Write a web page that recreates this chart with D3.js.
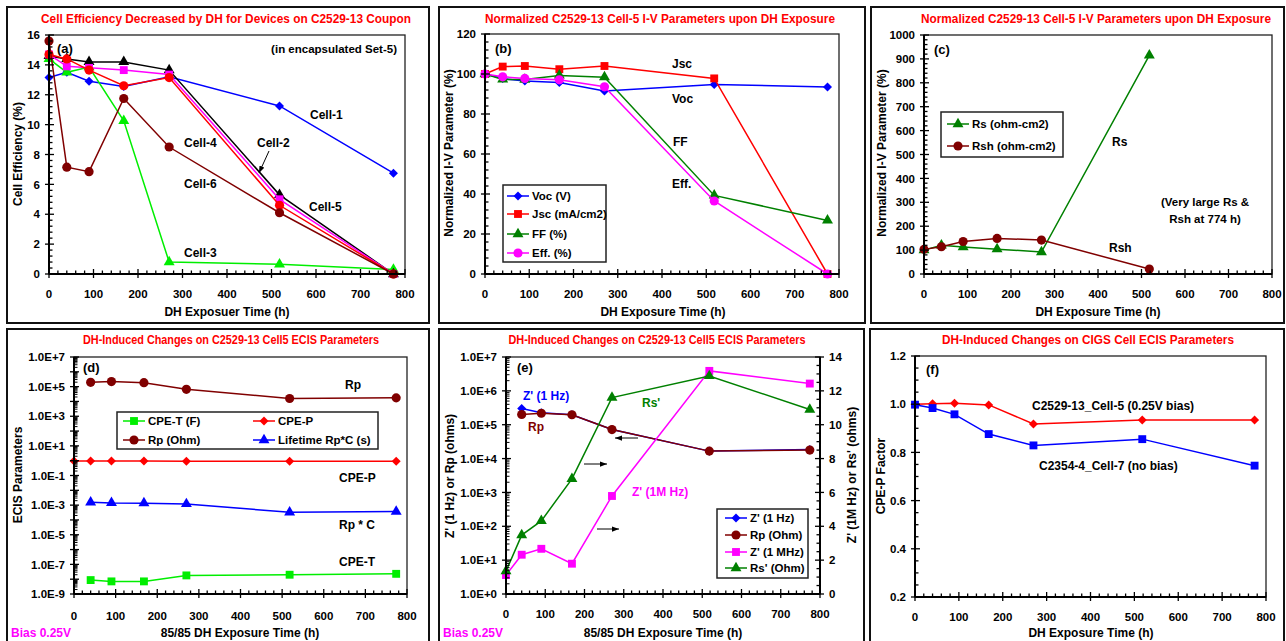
<!DOCTYPE html>
<html><head><meta charset="utf-8">
<script src="https://cdn.jsdelivr.net/npm/d3@7"></script>
<style>
body{margin:0;background:#fff;}
svg{display:block;font-family:"Liberation Sans",Arial,sans-serif;font-weight:bold;}
</style></head><body>
<svg id="c" width="1286" height="641"></svg>
<script>
// ---------- DATA ----------
const hoursAll = [0, 40, 90, 168, 270, 518, 774];
const xTicks = [0, 100, 200, 300, 400, 500, 600, 700, 800];

// (a) cell efficiency (%)
const cell1 = [13.15, 13.5, 12.9, 12.55, 13.2, 11.25, 6.75];
const cell2 = [14.6, 14.4, 14.2, 14.2, 13.65, 5.3, 0];
const cell3 = [14.4, 13.5, 13.85, 10.25, 0.8, 0.65, 0.3];
const cell4 = [14.7, 14.4, 13.65, 12.6, 13.15, 4.6, 0];
const cell5 = [14.7, 13.9, 13.8, 13.65, 13.35, 5.0, 0];
const cell6 = [15.6, 7.15, 6.85, 11.75, 8.5, 4.1, 0];
const yTicksA = [0, 2, 4, 6, 8, 10, 12, 14, 16];

// (b) normalized I-V (%)
const vocN = [100, 97.7, 96.5, 95.8, 91.5, 94.8, 93.5];
const jscN = [100, 103.7, 104, 102.4, 104, 97.8, 0];
const ffN = [100, 97.3, 97.2, 99.3, 98.4, 39.3, 26.8];
const effN = [100, 98.6, 97.8, 97.1, 93.6, 36.5, 0];
const yTicksB = [0, 20, 40, 60, 80, 100, 120];

// (c) normalized Rs, Rsh (%)
const hoursC = [0, 40, 90, 168, 270, 518];
const rsN = [100, 120, 113, 104, 92, 915];
const rshN = [103, 114, 136, 149, 142, 21];
const yTicksC = [0, 100, 200, 300, 400, 500, 600, 700, 800, 900, 1000];

// (d) ECIS parameters
const hoursD = [40, 90, 168, 270, 518, 774];
const cpeT = [8.7e-9, 7.1e-9, 7.1e-9, 1.8e-8, 2.0e-8, 2.3e-8];
const cpeP = [0.95, 0.95, 0.95, 0.95, 0.9, 0.9, 0.9];
const rpD = [1.96e5, 2.2e5, 1.85e5, 6.6e4, 1.57e4, 1.74e4];
const lifetimeD = [1.56e-3, 1.41e-3, 1.35e-3, 1.2e-3, 3.3e-4, 3.7e-4];

// (e) impedance
const hoursE = [40, 90, 168, 270, 518, 774];
const z1Hz = [3.0e5, 2.25e5, 1.97e5, 7.2e4, 1.66e4, 1.85e4];
const rpE = [2.0e5, 2.18e5, 1.97e5, 7.2e4, 1.66e4, 1.78e4];
const z1MHz = [1.12, 2.32, 2.67, 1.79, 5.79, 13.18, 12.43];
const rsPrime = [1.35, 3.48, 4.32, 6.8, 11.6, 12.88, 10.9];
const yTicksER = [0, 2, 4, 6, 8, 10, 12, 14];

// (f) CPE-P factor
const cpeCell5 = [1.0, 1.002, 1.004, 0.997, 0.918, 0.934, 0.934];
const cpeCell7 = [0.998, 0.984, 0.958, 0.876, 0.829, 0.855, 0.745];
const yTicksF = [0.2, 0.4, 0.6, 0.8, 1.0, 1.2];

// ---------- HELPERS ----------
const svg = d3.select('#c');
svg.append('rect').attr('width', 1286).attr('height', 641).attr('fill', '#fff');
const defs = svg.append('defs');
defs.append('marker').attr('id', 'ah').attr('viewBox', '0 0 8 6')
  .attr('refX', 8).attr('refY', 3).attr('markerWidth', 7).attr('markerHeight', 5.5)
  .attr('markerUnits', 'userSpaceOnUse').attr('orient', 'auto')
  .append('path').attr('d', 'M0,0L8,3L0,6Z').attr('fill', '#000');

const DIAMOND = { draw(ctx, size) { const r = Math.sqrt(size) / 2 * 1.25; ctx.moveTo(0, -r); ctx.lineTo(r, 0); ctx.lineTo(0, r); ctx.lineTo(-r, 0); ctx.closePath(); } };
const SYM = { diamond: [DIAMOND, 52], square: [d3.symbolSquare, 62], triangle: [d3.symbolTriangle, 52], circle: [d3.symbolCircle, 66] };
const TICKFS = 11.5;

function frame(x0, y0, x1, y1) {
  svg.append('rect').attr('x', x0).attr('y', y0).attr('width', x1 - x0).attr('height', y1 - y0)
    .attr('fill', 'none').attr('stroke', '#111').attr('stroke-width', 2);
}
function title(txt, cx, y, w) {
  svg.append('text').attr('x', cx).attr('y', y).attr('text-anchor', 'middle').attr('fill', '#ff0000')
    .attr('font-size', 12).attr('textLength', w).attr('lengthAdjust', 'spacingAndGlyphs').text(txt);
}
function txt(s, x, y, opts = {}) {
  return svg.append('text').attr('x', x).attr('y', y).attr('font-size', opts.fs || 12)
    .attr('fill', opts.color || '#000').attr('text-anchor', opts.anchor || 'start').text(s);
}
function vlabel(s, cx, cy) {
  svg.append('text').attr('transform', `translate(${cx},${cy}) rotate(-90)`).attr('text-anchor', 'middle')
    .attr('dy', '0.35em').attr('font-size', 12).text(s);
}
function plotBox(p) {
  svg.append('rect').attr('x', p.x0).attr('y', p.y0).attr('width', p.x1 - p.x0).attr('height', p.y1 - p.y0)
    .attr('fill', 'none').attr('stroke', '#222').attr('stroke-width', 1.3);
}
function xAxis(p, x, base) {
  const g = svg.append('g').attr('stroke', '#000');
  g.selectAll(null).data(d3.range(0, 801, 20)).join('line')
    .attr('x1', d => x(d)).attr('x2', d => x(d))
    .attr('y1', d => d % 100 === 0 ? p.y1 - 5 : p.y1 - 3.5)
    .attr('y2', d => d % 100 === 0 ? p.y1 + 4 : p.y1).attr('stroke-width', 1.3);
  g.append('line').attr('x1', p.x0).attr('x2', p.x1).attr('y1', p.y1).attr('y2', p.y1).attr('stroke-width', 2);
  svg.append('g').selectAll(null).data(xTicks).join('text').attr('x', d => x(d)).attr('y', base)
    .attr('text-anchor', 'middle').attr('font-size', TICKFS).text(d => d);
}
function yAxisLin(p, y, majors, nMinor, fmt, side) {
  const ax = side === 'right' ? p.x1 : p.x0, dir = side === 'right' ? -1 : 1;
  const g = svg.append('g').attr('stroke', '#000');
  const minors = [];
  for (let i = 0; i < majors.length - 1; i++) {
    const step = (majors[i + 1] - majors[i]) / nMinor;
    for (let k = 1; k < nMinor; k++) minors.push(majors[i] + k * step);
  }
  g.selectAll(null).data(minors).join('line').attr('x1', ax).attr('x2', ax + dir * 3.5)
    .attr('y1', d => y(d)).attr('y2', d => y(d)).attr('stroke-width', 1.3);
  g.selectAll(null).data(majors).join('line').attr('x1', ax - dir * 4).attr('x2', ax + dir * 5)
    .attr('y1', d => y(d)).attr('y2', d => y(d)).attr('stroke-width', 1.3);
  g.append('line').attr('x1', ax).attr('x2', ax).attr('y1', p.y0).attr('y2', p.y1).attr('stroke-width', 2);
  svg.append('g').selectAll(null).data(majors).join('text').attr('x', ax - dir * 9).attr('y', d => y(d))
    .attr('dy', '0.36em').attr('text-anchor', side === 'right' ? 'start' : 'end').attr('font-size', TICKFS).text(fmt);
}
function yAxisLog(p, y, eMin, eMax, labelFilter) {
  const ax = p.x0;
  const g = svg.append('g').attr('stroke', '#000');
  const minors = [];
  for (let e = eMin; e < eMax; e++) for (let k = 2; k <= 9; k++) minors.push(k * Math.pow(10, e));
  g.selectAll(null).data(minors).join('line').attr('x1', ax).attr('x2', ax + 3.5)
    .attr('y1', d => y(d)).attr('y2', d => y(d)).attr('stroke-width', 1);
  const dec = d3.range(eMin, eMax + 1);
  g.selectAll(null).data(dec).join('line').attr('x1', ax - 4).attr('x2', ax + 5)
    .attr('y1', d => y(Math.pow(10, d))).attr('y2', d => y(Math.pow(10, d))).attr('stroke-width', 1.3);
  g.append('line').attr('x1', ax).attr('x2', ax).attr('y1', p.y0).attr('y2', p.y1).attr('stroke-width', 2);
  svg.append('g').selectAll(null).data(dec.filter(labelFilter)).join('text').attr('x', ax - 9)
    .attr('y', d => y(Math.pow(10, d))).attr('dy', '0.36em').attr('text-anchor', 'end').attr('font-size', TICKFS)
    .text(d => '1.0E' + (d >= 0 ? '+' : '-') + Math.abs(d));
}
function series(x, y, xs, ys, color, sym) {
  const pts = xs.map((h, i) => [h, ys[i]]);
  const g = svg.append('g');
  g.append('path').attr('d', d3.line().x(d => x(d[0])).y(d => y(d[1]))(pts))
    .attr('fill', 'none').attr('stroke', color).attr('stroke-width', 1.5);
  const [t, s] = SYM[sym];
  g.selectAll(null).data(pts).join('path').attr('d', d3.symbol().type(t).size(s))
    .attr('transform', d => `translate(${x(d[0])},${y(d[1])})`).attr('fill', color);
}
function legendItem(lx, ly, label, color, sym) {
  svg.append('line').attr('x1', lx).attr('x2', lx + 22).attr('y1', ly).attr('y2', ly).attr('stroke', color).attr('stroke-width', 1.5);
  const [t, s] = SYM[sym];
  svg.append('path').attr('d', d3.symbol().type(t).size(s)).attr('transform', `translate(${lx + 11},${ly})`).attr('fill', color);
  txt(label, lx + 25, ly + 4, { fs: 11.5 });
}
function legendBox(x0, y0, x1, y1) {
  svg.append('rect').attr('x', x0).attr('y', y0).attr('width', x1 - x0).attr('height', y1 - y0)
    .attr('fill', '#fff').attr('stroke', '#222').attr('stroke-width', 1.5);
}
const BLUE = '#0000ff', RED = '#ff0000', MAG = '#ff00ff', DRED = '#800000', GRN = '#008000', LIME = '#00ee00';

// ---------- FRAMES ----------
frame(7, 7, 429, 323); frame(439, 7, 865, 323); frame(871, 7, 1284, 323);
frame(7, 329, 429, 646); frame(439, 329, 864, 646); frame(870, 329, 1284, 646);

// ---------- (a) ----------
{
  const p = { x0: 49, x1: 405, y0: 35, y1: 274 };
  const x = d3.scaleLinear([0, 800], [p.x0, p.x1]);
  const y = d3.scaleLinear([0, 16], [p.y1, p.y0]);
  title('Cell Efficiency Decreased by DH for Devices on C2529-13 Coupon', 226, 23, 370);
  plotBox(p);
  series(x, y, hoursAll, cell1, BLUE, 'diamond');
  series(x, y, hoursAll, cell3, LIME, 'triangle');
  series(x, y, hoursAll, cell2, '#000', 'triangle');
  series(x, y, hoursAll, cell5, MAG, 'square');
  series(x, y, hoursAll, cell4, RED, 'circle');
  series(x, y, hoursAll, cell6, DRED, 'circle');
  xAxis(p, x, 298);
  yAxisLin(p, y, yTicksA, 5, d => d, 'left');
  vlabel('Cell Efficiency (%)', 18, 154);
  txt('DH Exposuer Time (h)', 227, 316, { anchor: 'middle' });
  txt('(a)', 57, 53, { fs: 13 });
  txt('(in encapsulated Set-5)', 397, 53, { anchor: 'end', fs: 11.5 });
  txt('Cell-1', 310, 119); txt('Cell-4', 184, 147); txt('Cell-2', 257, 147);
  txt('Cell-6', 184, 188); txt('Cell-5', 309, 211); txt('Cell-3', 184, 257);
  svg.append('line').attr('x1', 269).attr('y1', 151).attr('x2', 259).attr('y2', 173)
    .attr('stroke', '#000').attr('stroke-width', 1).attr('marker-end', 'url(#ah)');
}

// ---------- (b) ----------
{
  const p = { x0: 485, x1: 839, y0: 34, y1: 274 };
  const x = d3.scaleLinear([0, 800], [p.x0, p.x1]);
  const y = d3.scaleLinear([0, 120], [p.y1, p.y0]);
  title('Normalized C2529-13 Cell-5 I-V Parameters upon DH Exposure', 660, 23, 350);
  plotBox(p);
  series(x, y, hoursAll, vocN, BLUE, 'diamond');
  series(x, y, hoursAll, jscN, RED, 'square');
  series(x, y, hoursAll, ffN, GRN, 'triangle');
  series(x, y, hoursAll, effN, MAG, 'circle');
  xAxis(p, x, 298);
  yAxisLin(p, y, yTicksB, 5, d => d, 'left');
  vlabel('Normalized I-V Parameter  (%)', 449, 153);
  txt('DH Exposure Time (h)', 663, 316, { anchor: 'middle' });
  txt('(b)', 495, 53, { fs: 13 });
  txt('Jsc', 672, 68); txt('Voc', 672, 103); txt('FF', 673, 146); txt('Eff.', 672, 188);
  legendBox(503, 185, 606, 262);
  legendItem(507, 196, 'Voc (V)', BLUE, 'diamond');
  legendItem(507, 214, 'Jsc (mA/cm2)', RED, 'square');
  legendItem(507, 234, 'FF (%)', GRN, 'triangle');
  legendItem(507, 253, 'Eff. (%)', MAG, 'circle');
}

// ---------- (c) ----------
{
  const p = { x0: 924, x1: 1272, y0: 35, y1: 274 };
  const x = d3.scaleLinear([0, 800], [p.x0, p.x1]);
  const y = d3.scaleLinear([0, 1000], [p.y1, p.y0]);
  title('Normalized C2529-13 Cell-5 I-V Parameters upon DH Exposure', 1096, 23, 350);
  plotBox(p);
  series(x, y, hoursC, rsN, GRN, 'triangle');
  series(x, y, hoursC, rshN, DRED, 'circle');
  xAxis(p, x, 298);
  yAxisLin(p, y, yTicksC, 5, d => d, 'left');
  vlabel('Normalized I-V Parameter  (%)', 882, 153);
  txt('DH Exposure Time (h)', 1098, 316, { anchor: 'middle' });
  txt('(c)', 934, 54, { fs: 13 });
  legendBox(941, 112, 1063, 157);
  legendItem(947, 124, 'Rs (ohm-cm2)', GRN, 'triangle');
  legendItem(947, 146, 'Rsh (ohm-cm2)', DRED, 'circle');
  txt('Rs', 1112, 146); txt('Rsh', 1109, 252);
  txt('(Very large Rs &', 1205, 206, { anchor: 'middle', fs: 11.5 });
  txt('Rsh at 774 h)', 1205, 223, { anchor: 'middle', fs: 11.5 });
}

// ---------- (d) ----------
{
  const p = { x0: 74, x1: 407, y0: 357, y1: 594 };
  const x = d3.scaleLinear([0, 800], [p.x0, p.x1]);
  const y = d3.scaleLog([1e-9, 1e7], [p.y1, p.y0]);
  title('DH-Induced Changes on C2529-13 Cell5 ECIS Parameters', 231, 344, 296);
  plotBox(p);
  series(x, y, hoursD, cpeT, LIME, 'square');
  series(x, y, hoursAll, cpeP, RED, 'diamond');
  series(x, y, hoursD, rpD, DRED, 'circle');
  series(x, y, hoursD, lifetimeD, BLUE, 'triangle');
  xAxis(p, x, 620);
  yAxisLog(p, y, -9, 7, d => (d + 9) % 2 === 0);
  vlabel('ECIS Parameters', 18, 475);
  txt('85/85 DH Exposure Time (h)', 240, 637, { anchor: 'middle' });
  txt('Bias 0.25V', 11, 637, { color: MAG });
  txt('(d)', 83, 372, { fs: 13 });
  legendBox(117, 412, 378, 449);
  legendItem(123, 421, 'CPE-T (F)', LIME, 'square');
  legendItem(253, 421, 'CPE-P', RED, 'diamond');
  legendItem(123, 440, 'Rp (Ohm)', DRED, 'circle');
  legendItem(253, 440, 'Lifetime Rp*C (s)', BLUE, 'triangle');
  txt('Rp', 345, 389); txt('CPE-P', 339, 482); txt('Rp * C', 339, 529); txt('CPE-T', 339, 566);
}

// ---------- (e) ----------
{
  const p = { x0: 506, x1: 820, y0: 357, y1: 594 };
  const x = d3.scaleLinear([0, 800], [p.x0, p.x1]);
  const y = d3.scaleLog([1, 1e7], [p.y1, p.y0]);
  const yR = d3.scaleLinear([0, 14], [p.y1, p.y0]);
  title('DH-Induced Changes on C2529-13 Cell5 ECIS Parameters', 657, 344, 297);
  plotBox(p);
  series(x, y, hoursE, z1Hz, BLUE, 'diamond');
  series(x, y, hoursE, rpE, DRED, 'circle');
  series(x, yR, hoursAll, z1MHz, MAG, 'square');
  series(x, yR, hoursAll, rsPrime, GRN, 'triangle');
  xAxis(p, x, 618);
  yAxisLog(p, y, 0, 7, () => true);
  yAxisLin(p, yR, yTicksER, 4, d => d, 'right');
  vlabel("Z' (1 Hz) or Rp (ohms)", 450, 476);
  vlabel("Z' (1M Hz) or Rs' (ohms)", 852, 475);
  txt('85/85 DH Exposure Time (h)', 663, 637, { anchor: 'middle' });
  txt('Bias 0.25V', 443, 637, { color: MAG });
  txt('(e)', 517, 372, { fs: 13 });
  txt("Z' (1 Hz)", 523, 400, { color: BLUE });
  txt('Rp', 528, 431, { color: DRED });
  txt("Rs'", 642, 407, { color: GRN });
  txt("Z' (1M Hz)", 632, 496, { color: MAG });
  const arrow = (x1, y1, x2, y2) => svg.append('line').attr('x1', x1).attr('y1', y1).attr('x2', x2).attr('y2', y2)
    .attr('stroke', '#000').attr('stroke-width', 1).attr('marker-end', 'url(#ah)');
  arrow(638, 438, 615, 438); arrow(584, 464, 607, 464); arrow(597, 529, 619, 529);
  legendBox(717, 509, 808, 578);
  legendItem(725, 518, "Z' (1 Hz)", BLUE, 'diamond');
  legendItem(725, 535, 'Rp (Ohm)', DRED, 'circle');
  legendItem(725, 552, "Z' (1 MHz)", MAG, 'square');
  legendItem(725, 568, "Rs' (Ohm)", GRN, 'triangle');
}

// ---------- (f) ----------
{
  const p = { x0: 915, x1: 1266, y0: 356, y1: 597 };
  const x = d3.scaleLinear([0, 800], [p.x0, p.x1]);
  const y = d3.scaleLinear([0.2, 1.2], [p.y1, p.y0]);
  title('DH-Induced Changes on CIGS Cell ECIS Parameters', 1088, 344, 292);
  plotBox(p);
  series(x, y, hoursAll, cpeCell5, RED, 'diamond');
  series(x, y, hoursAll, cpeCell7, BLUE, 'square');
  xAxis(p, x, 621);
  yAxisLin(p, y, yTicksF, 4, d => d.toFixed(1), 'left');
  vlabel('CPE-P Factor', 881, 476);
  txt('DH Exposure Time (h)', 1091, 637, { anchor: 'middle' });
  txt('(f)', 926, 374, { fs: 13 });
  txt('C2529-13_Cell-5 (0.25V bias)', 1032, 410);
  txt('C2354-4_Cell-7 (no bias)', 1039, 470);
}
</script>
</body></html>
